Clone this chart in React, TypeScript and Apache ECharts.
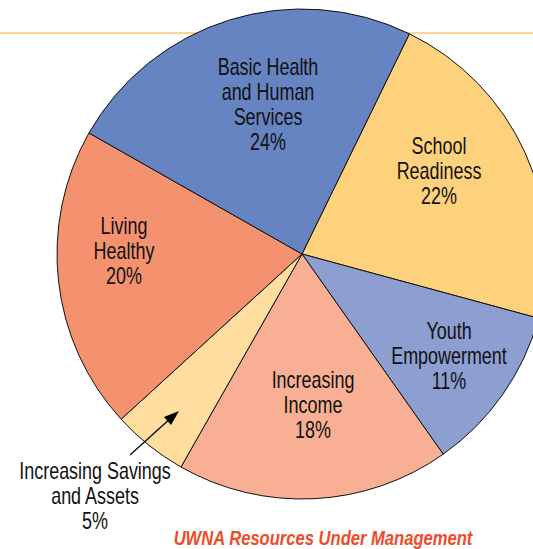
import React, { useEffect, useRef } from "react";
import * as echarts from "echarts";

const categories = [
  "School Readiness",
  "Youth Empowerment",
  "Increasing Income",
  "Increasing Savings and Assets",
  "Living Healthy",
  "Basic Health and Human Services",
];
const values = [22, 11, 18, 5, 20, 24];
const colors = ["#FED27C", "#8D9ED0", "#F8AF93", "#FEDD9E", "#F4926F", "#6683C2"];
const labelLines = [
  ["School", "Readiness"],
  ["Youth", "Empowerment"],
  ["Increasing", "Income"],
  ["Increasing Savings", "and Assets"],
  ["Living", "Healthy"],
  ["Basic Health", "and Human", "Services"],
];
const labelPos = [
  [439, 171],
  [449, 356],
  [313, 405],
  [95, 496],
  [124, 251],
  [268, 104],
];
const title = "UWNA Resources Under Management";

const FONT = "'Liberation Sans', Arial, sans-serif";
const SQUEEZE = 0.78;

export default function App() {
  const ref = useRef<HTMLDivElement>(null);
  useEffect(() => {
    if (!ref.current) return;
    const chart = echarts.init(ref.current, null, { renderer: "svg" });
    const texts = categories.map((c, i) => ({
      type: "text",
      z: 10,
      x: labelPos[i][0],
      y: labelPos[i][1],
      scaleX: SQUEEZE,
      style: {
        text: [...labelLines[i], values[i] + "%"].join("\n"),
        fontFamily: FONT,
        fontSize: 23,
        lineHeight: 25,
        fill: "#111",
        align: "center",
        verticalAlign: "middle",
      },
    }));
    chart.setOption({
      animation: false,
      backgroundColor: "#ffffff",
      graphic: [
        {
          type: "line",
          z: 0,
          shape: { x1: 0, y1: 33, x2: 533, y2: 33 },
          style: { stroke: "#FDD493", lineWidth: 2 },
        },
        ...texts,
        {
          type: "line",
          z: 10,
          shape: { x1: 130, y1: 455, x2: 172, y2: 417 },
          style: { stroke: "#000", lineWidth: 1.2 },
        },
        {
          type: "polygon",
          z: 10,
          shape: { points: [[179, 411], [164, 417], [171, 425]] },
          style: { fill: "#000" },
        },
        {
          type: "text",
          z: 10,
          x: 323,
          y: 538,
          scaleX: 0.79,
          style: {
            text: title,
            fontFamily: FONT,
            fontSize: 21,
            fontWeight: "bold",
            fontStyle: "italic",
            fill: "#EE4B2B",
            align: "center",
            verticalAlign: "middle",
          },
        },
      ],
      series: [
        {
          type: "pie",
          z: 2,
          center: [302, 254],
          radius: 245,
          startAngle: 64,
          clockwise: true,
          label: { show: false },
          labelLine: { show: false },
          emphasis: { disabled: true },
          itemStyle: { borderColor: "#111", borderWidth: 1 },
          data: categories.map((c, i) => ({
            name: c,
            value: values[i],
            itemStyle: { color: colors[i] },
          })),
        },
      ],
    });
    return () => chart.dispose();
  }, []);
  return (
    <div
      ref={ref}
      style={{ position: "fixed", left: 0, top: 0, width: 533, height: 549 }}
    />
  );
}
